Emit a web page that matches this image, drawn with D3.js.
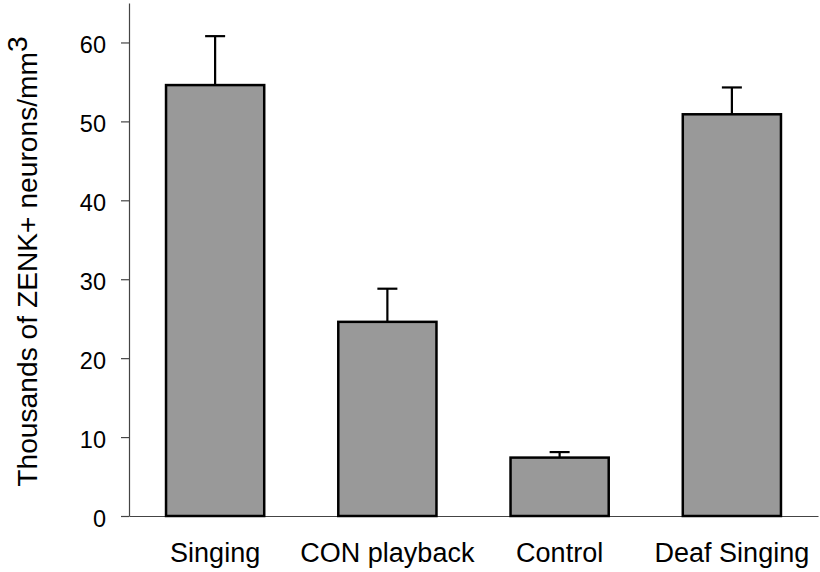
<!DOCTYPE html>
<html>
<head>
<meta charset="utf-8">
<script src="https://cdn.jsdelivr.net/npm/d3@7"></script>
<style>
  html, body { margin: 0; padding: 0; background: #fff; }
  svg { display: block; font-family: "Liberation Sans", Arial, Helvetica, sans-serif; }
</style>
</head>
<body>
<svg id="chart" width="820" height="572"></svg>
<script>
const categories = ["Singing", "CON playback", "Control", "Deaf Singing"];
const means = [54.6, 24.6, 7.4, 50.9];
const errors = [6.2, 4.2, 0.7, 3.4];
const yTicks = [0, 10, 20, 30, 40, 50, 60];
const yMax = 65;

(function () {
const svg = d3.select("#chart");
const mLeft = 129, mRight = 818, mTop = 3, mBottom = 516;

const x = d3.scaleBand().domain(categories).range([mLeft, mRight])
  .paddingInner(0.43).paddingOuter(0.215);
const y = d3.scaleLinear().domain([0, yMax]).range([mBottom, mTop]);

// Y axis
const yAxis = svg.append("g").attr("transform", `translate(${mLeft},0)`)
  .call(d3.axisLeft(y).tickValues(yTicks).tickSize(8).tickSizeOuter(0).tickFormat(d3.format("d")));
yAxis.select(".domain").attr("stroke", "#444").attr("stroke-width", 1.2);
yAxis.selectAll(".tick line").attr("stroke", "#444").attr("stroke-width", 1.2);
yAxis.selectAll(".tick text").attr("x", -23).attr("dy", "10px")
  .attr("font-size", 23.5).attr("fill", "#000")
  .attr("font-family", "'Liberation Sans', Arial, sans-serif");

// X axis
const xAxis = svg.append("g").attr("transform", `translate(0,${mBottom})`)
  .call(d3.axisBottom(x).tickSize(0).tickSizeOuter(0));
xAxis.select(".domain").attr("stroke", "#444").attr("stroke-width", 1.2);
xAxis.selectAll(".tick text").attr("y", 46).attr("dy", 0)
  .attr("font-size", 27).attr("fill", "#000")
  .attr("font-family", "'Liberation Sans', Arial, sans-serif");

const data = categories.map((c, i) => ({ c, m: means[i], e: errors[i] }));

// Error bars
const eb = svg.append("g");
eb.selectAll("line.stem").data(data).join("line").attr("class", "stem")
  .attr("x1", d => x(d.c) + x.bandwidth() / 2)
  .attr("x2", d => x(d.c) + x.bandwidth() / 2)
  .attr("y1", d => y(d.m)).attr("y2", d => y(d.m + d.e))
  .attr("stroke", "#000").attr("stroke-width", 2.2);
eb.selectAll("line.cap").data(data).join("line").attr("class", "cap")
  .attr("x1", d => x(d.c) + x.bandwidth() / 2 - 10)
  .attr("x2", d => x(d.c) + x.bandwidth() / 2 + 10)
  .attr("y1", d => y(d.m + d.e)).attr("y2", d => y(d.m + d.e))
  .attr("stroke", "#000").attr("stroke-width", 2.2);

// Bars
svg.append("g").selectAll("rect").data(data).join("rect")
  .attr("x", d => x(d.c)).attr("width", x.bandwidth())
  .attr("y", d => y(d.m)).attr("height", d => y(0) - y(d.m))
  .attr("fill", "#999999").attr("stroke", "#000").attr("stroke-width", 2.5);

// Y label
const yl = svg.append("text")
  .attr("transform", `translate(37,${(488 + 35) / 2}) rotate(-90)`)
  .attr("text-anchor", "middle").attr("font-size", 28.2).attr("fill", "#000");
yl.append("tspan").text("Thousands of ZENK+ neurons/mm");
yl.append("tspan").attr("dy", -10).text("3");
})();
</script>
</body>
</html>
